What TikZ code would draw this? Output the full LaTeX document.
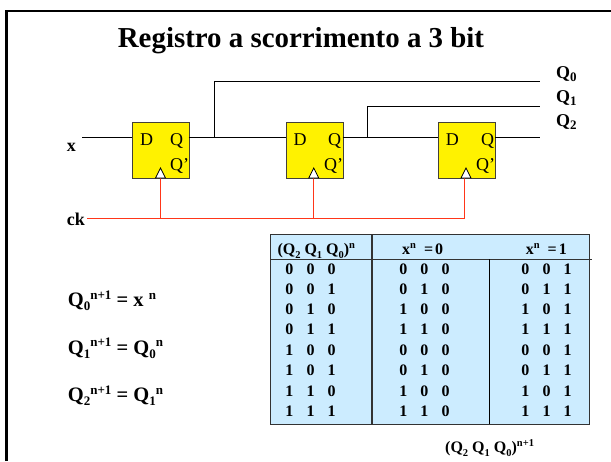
\documentclass[tikz,border=0pt]{standalone}
\usepackage{fontspec}
\setmainfont{Liberation Serif}
\newcommand\fs[1]{\fontsize{#1}{#1}\selectfont}
\newcommand\dnn[1]{\raisebox{-0.2em}{\fs{13}#1}}
\newcommand\upp[1]{\raisebox{0.36em}{\fs{13}#1}}
\newcommand\dnh[1]{\raisebox{-0.22em}{\fs{10.5}#1}}
\newcommand\uph[1]{\raisebox{0.36em}{\fs{10.5}#1}}
\tikzset{
  x=1pt,y=-1pt,
  lab/.style={anchor=base west,inner sep=0pt,font=\fs{18}\bfseries},
  eqn/.style={anchor=base west,inner sep=0pt,font=\fs{20.5}\bfseries},
  hdr/.style={anchor=base west,inner sep=0pt,font=\fs{16}\bfseries},
  dig/.style={anchor=base,inner sep=0pt,font=\fs{16}\bfseries},
  ffin/.style={anchor=base west,inner sep=0pt,font=\fs{18}},
  ffbox/.style={draw=black!85!yellow,fill=yellow,line width=1pt,minimum width=56.5pt,minimum height=56.5pt,inner sep=0pt,anchor=north west},
  wire/.style={draw=black,line width=0.9pt},
  clk/.style={draw=red!75!orange!90!white,line width=1pt},
  tri/.style={draw=black,fill=white,line width=0.8pt,line join=miter},
  tbl/.style={draw=black!80,line width=1pt}
}
\begin{document}
\begin{tikzpicture}
\useasboundingbox (0,0) rectangle (611,461);
% frame
\draw[line width=2.3pt] (6.5,461) -- (6.5,11) -- (611,11);
\node[anchor=base,inner sep=0pt,font=\fs{28.9}\bfseries] (title) at (301,47) {Registro a scorrimento a 3 bit};
% flip-flops
\node[ffbox] (ff1) at (132.3,121.7) {};
\node[ffbox] (ff2) at (286,121.7) {};
\node[ffbox] (ff3) at (438.3,121.7) {};
\foreach \n/\dx/\qa/\qb in {1/140/170/170,2/293.5/328/324,3/445.7/481/476}{
  \node[ffin] (d\n) at (\dx,145) {D};
  \node[ffin] (q\n) at (\qa,145) {Q};
  \node[ffin] (p\n) at (\qb,170) {Q'};
}
% coordinates
\coordinate (xin) at (82,137.3);
\coordinate (j0) at (214,137.3);
\coordinate (j0t) at (214,81.3);
\coordinate (e0) at (540,81.3);
\coordinate (j1) at (367.3,137.3);
\coordinate (j1t) at (367.3,106.7);
\coordinate (e1) at (540,106.7);
\coordinate (e2) at (540,137.3);
\coordinate (ff1q) at (188.6,137.3);
\coordinate (ff2d) at (286,137.3);
\coordinate (ff2q) at (342.5,137.3);
\coordinate (ff3d) at (438.3,137.3);
\coordinate (ff3q) at (494.8,137.3);
\coordinate (ff1d) at (132.3,137.3);
% wires
\draw[wire] (xin) -- (ff1d);
\draw[wire] (ff1q) -- (ff2d);
\draw[wire] (j0) -- (j0t) -- (e0);
\draw[wire] (ff2q) -- (ff3d);
\draw[wire] (j1) -- (j1t) -- (e1);
\draw[wire] (ff3q) -- (e2);
% clock
\coordinate (ckin) at (87,218.7);
\coordinate (c1) at (160.5,218.7);
\coordinate (c2) at (313.5,218.7);
\coordinate (c3) at (464,218.7);
\draw[clk] (ckin) -- (c3) -- (464,178);
\draw[clk] (c1) -- (160.5,178);
\draw[clk] (c2) -- (313.5,178);
\draw[tri] (155.5,178) -- (160.5,168) -- (165.5,178) -- cycle;
\draw[tri] (308.7,178) -- (313.7,168) -- (318.7,178) -- cycle;
\draw[tri] (461,178) -- (466,168) -- (471,178) -- cycle;
% labels
\node[lab] (lx) at (66.7,151.5) {x};
\node[lab] (lck) at (66.7,225) {ck};
\node[lab] (l0) at (556,78) {Q\dnn{0}};
\node[lab] (l1) at (556,102) {Q\dnn{1}};
\node[lab] (l2) at (556,126) {Q\dnn{2}};
% equations
\node[eqn] (e0t) at (67.7,306.5) {Q\dnn{0}\upp{n+1} = x \upp{n}};
\node[eqn] (e1t) at (67.7,354) {Q\dnn{1}\upp{n+1} = Q\dnn{0}\upp{n}};
\node[eqn] (e2t) at (67.7,401.5) {Q\dnn{2}\upp{n+1} = Q\dnn{1}\upp{n}};
% table
\draw[tbl,fill={rgb,255:red,204;green,236;blue,255}] (270,234) rectangle (589,424);
\draw[tbl] (270,259.3) -- (592,259.3);
\draw[tbl,line width=1.2pt] (372,234) -- (372,424);
\draw[tbl,draw=black] (489.3,259.3) -- (489.3,424);
\node[hdr] (h0) at (277.3,254.5) {(Q\dnh{2} Q\dnh{1} Q\dnh{0})\uph{n}};
\node[hdr] (h1) at (402,254.5) {x\uph{n} \hspace{4pt}=\hspace{2pt}0};
\node[hdr] (h2) at (525.7,254.5) {x\uph{n} \hspace{4pt}=\hspace{2pt}1};
\node[hdr] (h3) at (445,452.5) {(Q\dnh{2} Q\dnh{1} Q\dnh{0})\uph{n+1}};
\foreach \y/\a/\b/\c/\d/\e/\f [count=\i] in {274/0/0/0/0/0/0,294.5/0/0/1/0/1/0,314.5/0/1/0/1/0/0,334.5/0/1/1/1/1/0,355/1/0/0/0/0/0,375.7/1/0/1/0/1/0,396.3/1/1/0/1/0/0,416.3/1/1/1/1/1/0}{
  \node[dig] (a\i) at (289.3,\y) {\a};
  \node[dig] (b\i) at (310.7,\y) {\b};
  \node[dig] (c\i) at (331.7,\y) {\c};
  \node[dig] (d\i) at (403.3,\y) {\d};
  \node[dig] (e\i) at (424.3,\y) {\e};
  \node[dig] (f\i) at (445.7,\y) {\f};
  \node[dig] (g\i) at (525.3,\y) {\d};
  \node[dig] (h\i) at (546.7,\y) {\e};
  \node[dig] (k\i) at (567.7,\y) {1};
}
\end{tikzpicture}
\end{document}
